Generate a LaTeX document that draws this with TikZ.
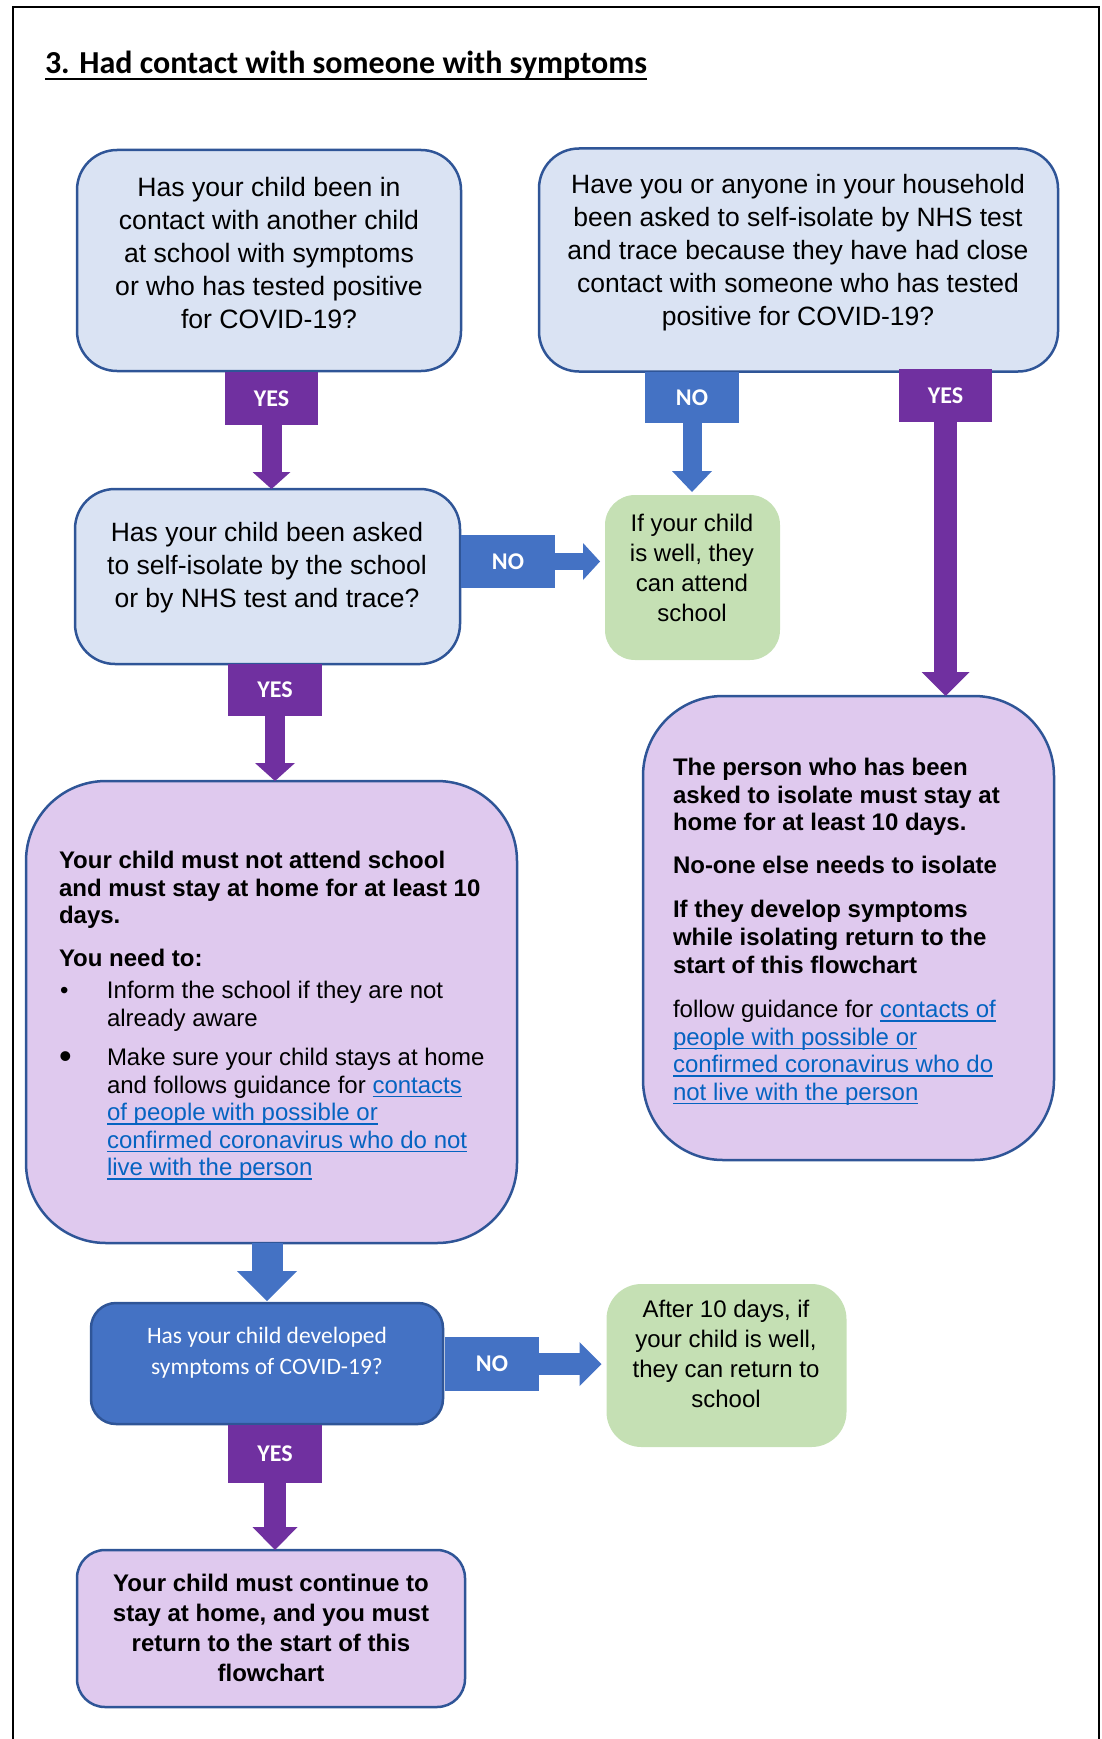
\documentclass[tikz,border=0pt]{standalone}
\usepackage{fontspec}
\setmainfont{Liberation Sans}
\newfontfamily\calib{Carlito}
\usepackage{graphicx}
\usetikzlibrary{arrows.meta,calc}
\definecolor{qfill}{HTML}{DAE3F3}
\definecolor{qline}{HTML}{2F5597}
\definecolor{purp}{HTML}{7030A0}
\definecolor{blu}{HTML}{4472C4}
\definecolor{grn}{HTML}{C5E0B4}
\definecolor{lav}{HTML}{DFC9EE}
\definecolor{linkc}{HTML}{0563C1}
\newcommand\ulx[3]{\setbox0\hbox{#3}\rlap{\rule[#1]{\wd0}{#2}}\box0}
\newcommand\lk[1]{{\color{linkc}\ulx{-4pt}{1.6pt}{#1}}}
\newcommand\bigbul{\raisebox{-3pt}{\scalebox{1.5}{\textbullet}}}
\begin{document}
\begin{tikzpicture}[x=1pt,y=-1pt,
  every node/.style={inner sep=0pt, outer sep=0pt},
  qbox/.style={draw=qline, fill=qfill, line width=2.5pt, rounded corners=40pt},
  lavbox/.style={draw=qline, fill=lav, line width=2.5pt},
  grnbox/.style={fill=grn, rounded corners=30pt},
  bluebox/.style={draw=qline, fill=blu, line width=2.5pt, rounded corners=25pt},
  ylab/.style={fill=purp, text=white, font=\calib\bfseries\fontsize{24}{24}\selectfont, minimum width=93pt},
  nlab/.style={ylab, fill=blu, minimum width=94pt},
  txt/.style={align=center},
  fat/.style n args={3}{line width=#1, -{Triangle[width=#2 0 0, length=#3 0 0, line width=0pt 0 0]}}
]
\useasboundingbox (0,0) rectangle (1101,1739);
% page frame
\draw[line width=2.5pt] (13,1739) -- (13,7) -- (1099,7) -- (1099,1739);
% title
\node[anchor=base west, font=\calib\bfseries\fontsize{32}{38}\selectfont] (title) at (45,74)
  {\ulx{-6.5pt}{2.5pt}{3. Had contact with someone with symptoms}};

% boxes
\node[qbox, minimum width=384pt, minimum height=221pt] (A) at (269,260.5) {};
\node[qbox, minimum width=519pt, minimum height=223pt] (B) at (798.5,260) {};
\node[qbox, minimum width=385pt, minimum height=175pt] (C) at (267.5,576.5) {};
\node[grnbox, minimum width=175pt, minimum height=165pt] (D) at (692.5,577.5) {};
\node[lavbox, rounded corners=80pt, minimum width=491pt, minimum height=462pt] (E) at (271.5,1012) {};
\node[lavbox, rounded corners=80pt, minimum width=411pt, minimum height=464pt] (F) at (848.5,928) {};
\node[bluebox, minimum width=352pt, minimum height=121pt] (G) at (267,1363.5) {};
\node[grnbox, rounded corners=35pt, minimum width=240pt, minimum height=163pt] (H) at (726.5,1365.5) {};
\node[lavbox, rounded corners=28pt, minimum width=388pt, minimum height=157pt] (I) at (271,1628.5) {};

% texts
\node[txt, font=\fontsize{26.6}{33}\selectfont] (tA) at (269,253)
  {Has your child been in\\contact with another child\\at school with symptoms\\or who has tested positive\\for COVID-19?};
\node[txt, font=\fontsize{26.5}{33}\selectfont] (tB) at (798,253)
  {Have you or anyone in your household\\been asked to self-isolate by NHS test\\and trace because they have had close\\contact with someone who has tested\\positive for COVID-19?};
\node[txt, font=\fontsize{26.5}{33}\selectfont] (tC) at (267,568)
  {Has your child been asked\\to self-isolate by the school\\or by NHS test and trace?};
\node[txt, font=\fontsize{24}{30}\selectfont] (tD) at (692,567.5)
  {If your child\\is well, they\\can attend\\school};
\node[align=left, anchor=north west, font=\fontsize{24}{27.6}\selectfont] (tE) at (59,851)
  {\textbf{Your child must not attend school}\\
   \textbf{and must stay at home for at least 10}\\
   \textbf{days.}\\[15.5pt]
   \textbf{You need to:}\\[4.5pt]
   \makebox[48pt][l]{\hspace{1pt}\textbullet}Inform the school if they are not\\
   \hspace*{48pt}already aware\\[11.5pt]
   \makebox[48pt][l]{\bigbul}Make sure your child stays at home\\
   \hspace*{48pt}and follows guidance for \lk{contacts}\\
   \hspace*{48pt}\lk{of people with possible or}\\
   \hspace*{48pt}\lk{confirmed coronavirus who do not}\\
   \hspace*{48pt}\lk{live with the person}};
\node[align=left, anchor=north west, font=\fontsize{24}{27.6}\selectfont] (tF) at (673,758)
  {\textbf{The person who has been}\\
   \textbf{asked to isolate must stay at}\\
   \textbf{home for at least 10 days.}\\[15.5pt]
   \textbf{No-one else needs to isolate}\\[16.5pt]
   \textbf{If they develop symptoms}\\
   \textbf{while isolating return to the}\\
   \textbf{start of this flowchart}\\[17pt]
   follow guidance for \lk{contacts of}\\
   \lk{people with possible or}\\
   \lk{confirmed coronavirus who do}\\
   \lk{not live with the person}};
\node[txt, text=white, font=\calib\fontsize{23.5}{31}\selectfont] (tG) at (267,1352.5)
  {Has your child developed\\symptoms of COVID-19?};
\node[txt, font=\fontsize{24}{30}\selectfont] (tH) at (726,1354)
  {After 10 days, if\\your child is well,\\they can return to\\school};
\node[txt, font=\bfseries\fontsize{24}{30}\selectfont] (tI) at (271,1628)
  {Your child must continue to\\stay at home, and you must\\return to the start of this\\flowchart};

% labels
\node[ylab, minimum height=53pt] (yes1) at (271.5,398.5) {YES};
\node[nlab, minimum height=51pt] (no1) at (692,397.5) {NO};
\node[ylab, minimum height=53pt] (yes2) at (945.5,395.5) {YES};
\node[nlab, minimum height=53pt] (no2) at (508,561.5) {NO};
\node[ylab, minimum width=94pt, minimum height=52pt] (yes3) at (275,690) {YES};
\node[nlab, minimum height=54pt] (no3) at (492,1364) {NO};
\node[ylab, minimum width=94pt, minimum height=58pt] (yes4) at (275,1454) {YES};

% arrows
\draw[purp, fat={20pt}{38pt}{17pt}] (yes1.south) -- (yes1.south |- C.north);
\draw[blu, fat={19pt}{40pt}{21pt}, shorten >=3pt] (no1.south) -- (no1.south |- D.north);
\draw[purp, fat={23pt}{48pt}{24pt}] (yes2.south) -- (yes2.south |- F.north);
\draw[blu, fat={17pt}{37pt}{17pt}, shorten >=5pt] (no2.east) -- (no2.east -| D.west);
\draw[purp, fat={20pt}{40pt}{18pt}] (yes3.south) -- (yes3.south |- E.north);
\draw[blu, fat={31pt}{60pt}{30pt}, shorten >=2pt] (G.north |- E.south) -- (G.north);
\draw[blu, fat={22pt}{44pt}{22pt}, shorten >=5pt] (no3.east) -- (no3.east -| H.west);
\draw[purp, fat={22pt}{45pt}{23pt}] (yes4.south) -- (yes4.south |- I.north);
\end{tikzpicture}
\end{document}
